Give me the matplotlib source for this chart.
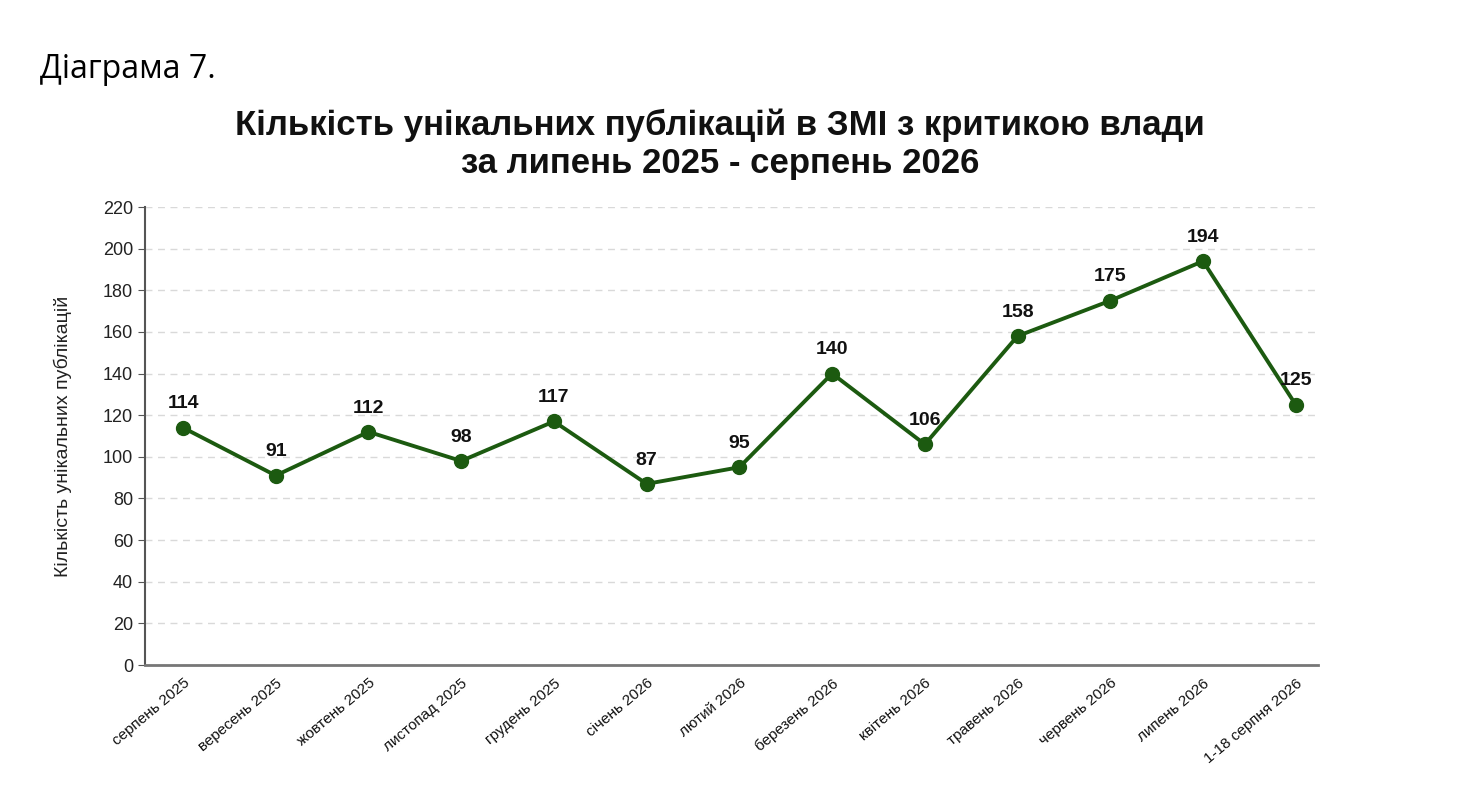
import matplotlib
matplotlib.use("Agg")
import matplotlib.pyplot as plt

categories = ["серпень 2025", "вересень 2025", "жовтень 2025", "листопад 2025",
              "грудень 2025", "січень 2026", "лютий 2026", "березень 2026",
              "квітень 2026", "травень 2026", "червень 2026", "липень 2026",
              "1-18 серпня 2026"]
values = [114, 91, 112, 98, 117, 87, 95, 140, 106, 158, 175, 194, 125]
yticks = list(range(0, 221, 20))

plt.rcParams['font.family'] = ['Liberation Sans', 'DejaVu Sans']

fig = plt.figure(figsize=(14.8, 8.07), dpi=100)
ax = fig.add_axes([145/1480, 1-665/807, (1318-145)/1480, (665-207)/807])

green = "#1c5a10"
x = list(range(len(categories)))
ax.plot(x, values, color=green, lw=2.8, marker='o', markersize=10, zorder=3)
for xi, v in zip(x, values):
    ax.annotate(str(v), (xi, v), xytext=(0, 11), textcoords='offset points',
                ha='center', va='bottom', fontsize=14, fontweight='bold', color='#111111')

ax.set_xlim(-0.41, 12.24)
ax.set_ylim(0, 220)
ax.set_yticks(yticks)
ax.tick_params(axis='y', labelsize=13, length=5, color='#555555', labelcolor='#222222')
ax.set_xticks(x)
ax.set_xticklabels(categories, rotation=40, ha='right', rotation_mode='anchor', fontsize=11)
ax.tick_params(axis='x', length=0, pad=8, labelcolor='#111111')
ax.grid(axis='y', linestyle=(0, (5, 4)), color='#d9d9d9', lw=1)
ax.set_axisbelow(True)
for s in ['top', 'right']:
    ax.spines[s].set_visible(False)
ax.spines['left'].set_color('#555555')
ax.spines['bottom'].set_color('#777777')
ax.spines['left'].set_linewidth(1.5)
ax.spines['bottom'].set_linewidth(2)
ax.set_ylabel("Кількість унікальних публікацій", fontsize=14, color='#222222', labelpad=22)

fig.text(40/1480, 1-69/807, "Діаграма 7.", fontsize=23, family=['Open Sans', 'DejaVu Sans'],
         ha='left', va='center')
fig.text(720/1480, 1-144/807, "Кількість унікальних публікацій в ЗМІ з критикою влади\nза липень 2025 - серпень 2026",
         fontsize=25, fontweight='bold', ha='center', va='center', linespacing=1.2, color='#111111')

fig.savefig("out.png", dpi=100, facecolor='white')
